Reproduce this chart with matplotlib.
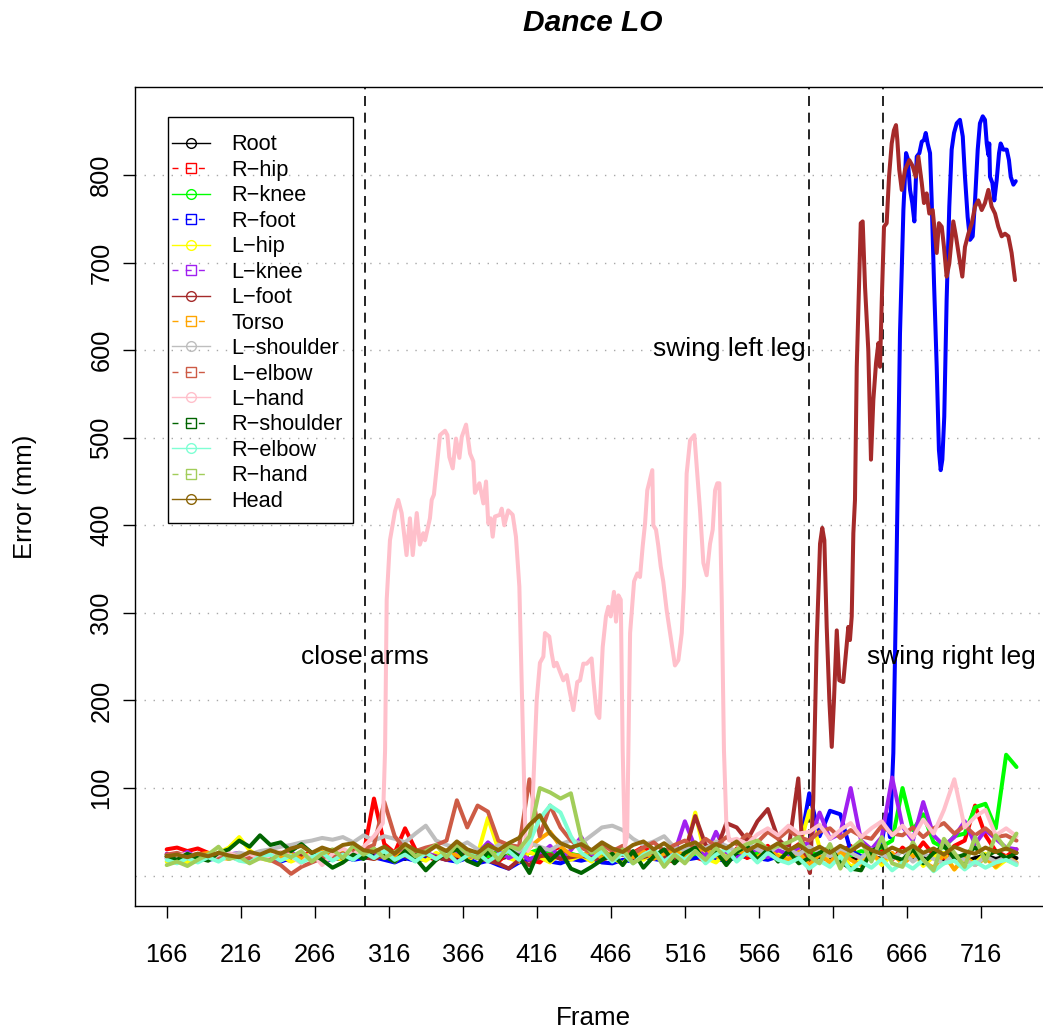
import numpy as np
import matplotlib.pyplot as plt
from matplotlib.lines import Line2D
from matplotlib.patches import Rectangle

plt.rcParams['font.family'] = ['Liberation Sans', 'DejaVu Sans']

# frames sampled every 7 frames, 166 .. 740
frames = np.arange(166, 741, 7)

joints = ['Root', 'R\u2212hip', 'R\u2212knee', 'R\u2212foot', 'L\u2212hip', 'L\u2212knee',
          'L\u2212foot', 'Torso', 'L\u2212shoulder', 'L\u2212elbow', 'L\u2212hand',
          'R\u2212shoulder', 'R\u2212elbow', 'R\u2212hand', 'Head']
colors = ['black', 'red', '#00FF00', 'blue', 'yellow', '#A020F0', '#A52A2A', '#FFA500',
          '#BEBEBE', '#CD5B45', '#FFC0CB', '#006400', '#7FFFD4', '#A2CD5A', '#8B6508']

# error (mm) per joint on the 7-frame grid
root = [22, 21, 19, 23, 20, 22, 24, 21, 19, 22,
        20, 23, 21, 18, 22, 24, 20, 19, 23, 21,
        24, 20, 22, 19, 25, 21, 23, 20, 18, 22,
        21, 24, 19, 22, 26, 18, 21, 23, 20, 24,
        22, 19, 23, 21, 25, 20, 22, 24, 19, 21,
        23, 20, 25, 22, 19, 24, 21, 23, 20, 22,
        19, 23, 14, 21, 18, 24, 20, 16, 22, 19,
        23, 17, 21, 19, 25, 18, 22, 16, 20, 23,
        19, 22, 20]
r_hip = [30, 32, 28, 31, 26, 22, 20, 25, 18, 22,
         24, 19, 17, 23, 26, 20, 18, 24, 29, 25,
         88, 36, 26, 54, 30, 22, 18, 27, 16, 24,
         28, 20, 16, 26, 30, 18, 15, 28, 33, 20,
         18, 27, 31, 20, 15, 26, 33, 24, 18, 16,
         29, 21, 17, 27, 14, 31, 20, 26, 34, 18,
         28, 36, 18, 30, 14, 27, 34, 16, 26, 30,
         18, 32, 22, 38, 24, 20, 34, 40, 80, 46,
         28, 22, 30]
r_knee = [24, 22, 25, 21, 23, 20, 24, 22, 19, 23,
          21, 25, 22, 20, 24, 23, 21, 26, 22, 24,
          27, 23, 25, 21, 28, 24, 22, 26, 23, 21,
          25, 22, 28, 24, 21, 26, 30, 27, 23, 25,
          22, 26, 24, 21, 27, 23, 25, 22, 28, 24,
          26, 23, 29, 25, 22, 27, 24, 26, 23, 28,
          25, 22, 27, 24, 30, 26, 23, 28, 25, 33,
          40, 100, 52, 70, 38, 32, 45, 48, 78, 82,
          54, 138, 124]
l_hip = [16, 20, 15, 22, 18, 26, 32, 44, 29, 20,
         17, 23, 16, 21, 25, 15, 22, 18, 24, 26,
         19, 25, 16, 27, 21, 17, 26, 20, 28, 18,
         24, 66, 30, 20, 16, 27, 21, 15, 26, 18,
         23, 16, 27, 20, 14, 25, 18, 27, 20, 29,
         24, 72, 20, 15, 26, 18, 28, 16, 24, 27,
         20, 30, 74, 32, 14, 26, 10, 18, 27, 12,
         24, 16, 28, 11, 22, 26, 7, 20, 14, 25,
         9, 18, 13]
l_knee = [25, 21, 27, 20, 25, 19, 24, 26, 21, 25,
          20, 24, 27, 18, 23, 26, 18, 24, 20, 25,
          27, 20, 25, 30, 19, 26, 22, 18, 28, 20,
          25, 38, 28, 20, 26, 18, 24, 34, 19, 29,
          44, 24, 20, 25, 29, 19, 24, 28, 20, 26,
          62, 32, 22, 50, 27, 20, 26, 30, 21, 29,
          24, 32, 38, 72, 42, 48, 100, 40, 30, 44,
          112, 56, 40, 84, 46, 34, 44, 62, 36, 52,
          42, 32, 30]
torso = [22, 25, 20, 24, 26, 21, 19, 25, 23, 20,
         26, 21, 25, 19, 24, 27, 21, 26, 20, 25,
         30, 23, 20, 28, 22, 26, 19, 29, 23, 20,
         27, 30, 21, 28, 20, 32, 42, 50, 33, 24,
         22, 29, 20, 26, 30, 21, 28, 19, 25, 29,
         21, 28, 31, 22, 19, 29, 24, 21, 30, 22,
         18, 27, 12, 24, 15, 28, 18, 12, 25, 16,
         26, 13, 23, 16, 9, 24, 7, 22, 12, 20,
         10, 22, 15]
l_shoulder = [20, 23, 21, 24, 22, 25, 23, 26, 24, 28,
              30, 33, 35, 38, 40, 43, 41, 44, 38, 46,
              40, 45, 42, 38, 48, 57, 40, 35, 32, 38,
              30, 26, 35, 30, 28, 37, 33, 29, 36, 40,
              37, 46, 55, 57, 52, 42, 35, 39, 45, 32,
              29, 36, 31, 39, 34, 27, 37, 30, 25, 34,
              30, 24, 33, 27, 22, 31, 26, 20, 30, 24,
              19, 28, 16, 25, 19, 14, 24, 18, 12, 22,
              16, 21, 14]
l_elbow = [24, 26, 22, 25, 23, 21, 24, 22, 20, 23,
           18, 12, 2, 10, 15, 20, 22, 25, 27, 30,
           35, 84, 45, 30, 28, 32, 35, 40, 86, 55,
           80, 73, 40, 35, 33, 110, 45, 80, 55, 40,
           32, 26, 36, 28, 34, 25, 32, 38, 28, 35,
           40, 31, 42, 34, 44, 36, 47, 38, 50, 42,
           52, 44, 40, 50, 54, 43, 52, 45, 42, 57,
           48, 46, 55, 44, 54, 60, 48, 57, 46, 54,
           44, 46, 40]
r_shoulder = [22, 18, 25, 20, 17, 26, 30, 40, 33, 46,
              35, 38, 28, 36, 26, 18, 9, 15, 24, 19,
              30, 22, 16, 28, 20, 6, 18, 26, 30, 17,
              12, 27, 18, 30, 22, 3, 32, 17, 28, 8,
              3, 10, 18, 25, 12, 28, 9, 22, 30, 14,
              26, 32, 15, 28, 12, 27, 34, 18, 30, 16,
              28, 14, 20, 26, 32, 16, 8, 6, 28, 34,
              22, 18, 30, 14, 26, 34, 20, 24, 32, 22,
              28, 20, 26]
r_elbow = [18, 14, 20, 15, 21, 16, 23, 17, 15, 22,
           24, 17, 23, 15, 21, 26, 17, 24, 18, 27,
           20, 28, 18, 24, 16, 26, 19, 27, 15, 23,
           26, 16, 24, 28, 18, 38, 65, 80, 72, 45,
           26, 18, 28, 16, 26, 14, 24, 30, 16, 25,
           18, 28, 14, 24, 30, 16, 27, 15, 26, 18,
           14, 20, 8, 17, 10, 22, 6, 16, 9, 19,
           6, 15, 8, 18, 5, 14, 17, 7, 16, 9,
           15, 18, 12]
r_hand = [12, 16, 11, 18, 24, 33, 19, 22, 14, 20,
          17, 26, 21, 28, 16, 25, 30, 20, 34, 24,
          31, 20, 27, 34, 22, 28, 35, 21, 36, 25,
          20, 32, 18, 34, 30, 45, 100, 95, 88, 94,
          42, 26, 32, 18, 30, 14, 22, 28, 10, 24,
          14, 28, 18, 32, 20, 30, 36, 40, 30, 34,
          38, 44, 22, 14, 36, 8, 30, 40, 16, 44,
          14, 10, 38, 18, 6, 42, 26, 10, 44, 16,
          46, 30, 48]
head = [22, 24, 21, 25, 22, 26, 23, 21, 27, 24,
        29, 25, 31, 34, 26, 32, 28, 35, 37, 29,
        27, 33, 25, 36, 29, 26, 34, 28, 39, 30,
        26, 35, 29, 37, 43, 58, 69, 48, 37, 32,
        36, 29, 38, 31, 27, 35, 39, 30, 37, 28,
        34, 38, 29, 36, 31, 39, 28, 35, 30, 37,
        29, 35, 27, 33, 26, 34, 28, 36, 29, 25,
        32, 27, 34, 26, 31, 24, 33, 28, 25, 32,
        27, 31, 26]

# R-foot: grid values up to frame 649, then the swing of the right leg
r_foot_low = [20, 22, 19, 21, 18, 20, 22, 19, 17, 21,
              19, 16, 20, 18, 21, 17, 19, 22, 18, 20,
              21, 18, 15, 20, 17, 19, 22, 18, 16, 20,
              14, 17, 12, 8, 15, 19, 21, 16, 14, 19,
              17, 20, 15, 14, 18, 16, 21, 19, 17, 22,
              18, 20, 23, 19, 17, 21, 24, 20, 18, 22,
              19, 26, 94, 45, 74, 70, 28, 22, 20, 38]
r_foot_swing_x = [652.3, 654.5, 656.8, 658.6, 661.3, 663.6, 665.4, 666.5, 668.1, 669.6,
                  671, 672.6, 674.4, 676, 677.5, 678.7, 680, 681.6, 682.7, 684.3,
                  686.1, 687.6, 688.8, 689.9, 691.2, 692.8, 694.6, 696.2, 697.8, 699.6,
                  701.8, 703.7, 705.2, 707, 708.6, 710.4, 712, 713.8, 715.3, 717.2,
                  718.7, 719.9, 721, 721.6, 722.1, 723.7, 725, 726.6, 728.2, 729.3,
                  731.1, 733.4, 734.9, 736.1, 737.9, 739.5]
r_foot_swing = [71, 44, 140, 315, 619, 760, 825, 819, 783, 768,
                747, 821, 825, 838, 840, 848, 836, 825, 771, 676,
                581, 486, 463, 475, 524, 657, 764, 829, 848, 859,
                863, 844, 798, 752, 726, 730, 771, 829, 859, 867,
                863, 836, 823, 836, 798, 791, 771, 794, 825, 836,
                829, 829, 817, 798, 789, 793]

# L-foot: grid values up to frame 586, then the swing of the left leg
l_foot_low = [24, 21, 23, 20, 22, 25, 21, 19, 23, 22,
              20, 24, 21, 23, 19, 22, 25, 20, 23, 21,
              19, 23, 26, 22, 20, 24, 21, 18, 22, 25,
              20, 17, 14, 8, 18, 12, 22, 24, 19, 21,
              23, 20, 18, 22, 24, 19, 21, 25, 22, 20,
              26, 68, 35, 28, 60, 55, 40, 62, 76, 42,
              30]
l_foot_swing_x = [592.6, 594.9, 597.5, 600.5, 602.7, 605, 607.3, 608.8, 610.2, 611.8,
                  613.6, 615.2, 616.7, 618.6, 620.3, 623, 624.8, 626.4, 627.5, 628.7,
                  629.8, 630.9, 632.1, 634.8, 636.1, 637.7, 639.9, 641.7, 643.3, 645.1,
                  646.7, 647.8, 649, 650.5, 652.3, 653.9, 655.7, 657.2, 658.6, 659.5,
                  660.8, 662.5, 664.7, 667.6, 669.9, 671.9, 673.7, 676, 677.5, 679.3,
                  681.1, 683.4, 684.9, 686.1, 687.6, 689.5, 691, 692.8, 694.6, 697.3,
                  699.1, 701.2, 703.4, 705.2, 707.5, 709.8, 712, 714.2, 716.5, 718.7,
                  721, 723.2, 725.5, 727.7, 730, 732.2, 734.5, 736.7, 739]
l_foot_swing = [111, 44, 20, 3, 86, 265, 379, 397, 383, 284,
                200, 147, 200, 280, 223, 221, 254, 284, 269, 296,
                391, 429, 581, 745, 747, 672, 600, 475, 543, 585,
                608, 581, 657, 741, 745, 798, 836, 851, 857, 840,
                806, 783, 806, 817, 810, 798, 821, 791, 768, 779,
                756, 760, 733, 711, 745, 741, 718, 684, 699, 747,
                730, 707, 684, 718, 733, 745, 764, 771, 760, 768,
                783, 764, 756, 741, 730, 733, 730, 711, 680]

# L-hand: grid values to frame 306, arm movements, grid values from frame 551
l_hand_low = [20, 23, 25, 21, 18, 24, 26, 21, 25, 19,
              23, 27, 22, 14, 26, 12, 25, 31, 24, 33,
              45]
l_hand_arms_x = [309, 312, 313.5, 314.6, 316.8, 320.2, 322.4, 324.7, 328, 330.3,
                 332.2, 334.9, 337, 339.3, 340.5, 343.8, 345, 346.5, 348.4, 350.6,
                 354, 355.6, 356.9, 359.2, 361.4, 363.7, 365.3, 368.2, 370.9, 373.1,
                 374.2, 377.2, 379.9, 381.7, 383.2, 384.8, 386.2, 387.7, 391.1, 392.3,
                 394, 396.7, 399.7, 401.9, 404.2, 406.9, 408.5, 410, 412, 415.9,
                 418.1, 420.4, 421.5, 424.4, 426, 427.6, 429.4, 431.6, 433.9, 436.2,
                 438, 440.7, 443.3, 445.2, 447.4, 449.7, 453, 454.2, 456.4, 458.2,
                 460.5, 462.7, 464.3, 465.9, 468.1, 469.5, 471.1, 472.7, 474, 475.5,
                 477, 479, 481.7, 483.9, 485.7, 487.5, 489.1, 490.6, 492.4, 494,
                 494.7, 496.5, 498.1, 499.7, 501.4, 503.7, 506, 509.3, 511.6, 513.9,
                 515.4, 517.2, 519.5, 522.4, 524, 526.2, 528.5, 530.7, 533, 534.8,
                 536.4, 537.9, 539.3, 540.9, 542.4, 544, 546]
l_hand_arms = [52, 60, 143, 315, 383, 416, 429, 414, 366, 408,
               366, 414, 378, 391, 383, 408, 429, 435, 467, 503,
               508, 503, 478, 465, 499, 477, 501, 515, 482, 473,
               437, 448, 425, 450, 402, 408, 387, 410, 412, 419,
               400, 417, 412, 387, 330, 143, 30, 28, 35, 200,
               243, 250, 277, 273, 254, 239, 243, 233, 223, 229,
               212, 189, 221, 223, 242, 242, 248, 223, 185, 180,
               261, 296, 307, 296, 324, 290, 320, 315, 143, 33,
               45, 277, 336, 345, 341, 376, 402, 440, 452, 463,
               400, 395, 376, 353, 336, 303, 277, 240, 246, 277,
               330, 459, 497, 503, 467, 418, 357, 343, 379, 395,
               440, 448, 448, 315, 143, 60, 40]
l_hand_tail = [42, 36, 47, 54, 46, 57, 48, 50, 58, 42,
               52, 60, 44, 54, 62, 46, 57, 43, 64, 48,
               75, 110, 55, 67, 75, 46, 54, 45]

events = [300, 600, 650]
event_labels = ['close arms', 'swing left leg', 'swing right leg']
event_label_pos = [(300, 250), (546, 601), (695.8, 250)]

series_x = [frames, frames, frames,
            np.concatenate([frames[:70], r_foot_swing_x]),
            frames, frames,
            np.concatenate([frames[:61], l_foot_swing_x]),
            frames, frames, frames,
            np.concatenate([frames[:21], l_hand_arms_x, frames[55:]]),
            frames, frames, frames, frames]
series_y = [root, r_hip, r_knee, r_foot_low + r_foot_swing, l_hip, l_knee,
            l_foot_low + l_foot_swing, torso, l_shoulder, l_elbow,
            l_hand_low + l_hand_arms + l_hand_tail,
            r_shoulder, r_elbow, r_hand, head]

W, H = 1043, 1033
fig = plt.figure(figsize=(W / 100, H / 100), dpi=100)
ax = fig.add_axes([135 / W, 127 / H, 916 / W, 819 / H])
ax.set_xlim(144.59, 144.59 + 916 / 1.4805)
ax.set_ylim(-34.7, 900.5)

for gy in range(0, 801, 100):
    ax.axhline(gy, color='#A8A8A8', lw=1.0, ls=(0, (1, 5.5)), zorder=0)

for ev in events:
    ax.axvline(ev, color='black', lw=1.2, ls=(0, (6, 4)), zorder=1)

for x, y, c in zip(series_x, series_y, colors):
    ax.plot(x, y, color=c, lw=2.9, solid_capstyle='round', solid_joinstyle='round', zorder=2)

for txt, (tx, ty) in zip(event_labels, event_label_pos):
    ax.text(tx, ty, txt, ha='center', va='center', fontsize=19, zorder=3)

ax.spines['right'].set_visible(False)
for s in ['left', 'bottom', 'top']:
    ax.spines[s].set_linewidth(1.0)

ax.set_xticks(range(166, 717, 50))
ax.set_yticks(range(100, 801, 100))
ax.set_yticklabels([str(v) for v in range(100, 801, 100)], rotation=90, va='center')
ax.tick_params(direction='out', length=8.6, width=1.0, labelsize=18.3)
ax.tick_params(axis='x', pad=18)
ax.tick_params(axis='y', pad=7)

fig.text(593 / W, 1 - 23 / H, 'Dance LO', ha='center', va='center',
         fontsize=21.5, fontweight='bold', fontstyle='italic')
fig.text(593 / W, 1 - 1018 / H, 'Frame', ha='center', va='center', fontsize=18.7)
fig.text(25 / W, 1 - 497 / H, 'Error (mm)', ha='center', va='center',
         rotation=90, fontsize=18.5)

handles = []
for i, c in enumerate(colors):
    if i % 2 == 0:
        handles.append(Line2D([], [], color=c, lw=1.0, ls='-', marker='o',
                              mfc='none', ms=7, mew=1.0))
    else:
        handles.append(Line2D([], [], color=c, lw=1.0, ls=(0, (4.3, 5.2)), marker='s',
                              mfc='none', ms=7, mew=1.0))
leg = ax.legend(handles, joints, loc='upper left',
                bbox_to_anchor=(172 / W, 1 - 134.5 / H), bbox_transform=fig.transFigure,
                fontsize=15.7, frameon=False, borderpad=0, labelspacing=0.204,
                handlelength=1.74, handletextpad=1.0, borderaxespad=0)
# legend box
fig.add_artist(Rectangle((168 / W, 1 - 523 / H), 185 / W, 406 / H,
                         transform=fig.transFigure, fill=False,
                         edgecolor='black', lw=1.0, zorder=6))

fig.savefig('out.png', dpi=100)
